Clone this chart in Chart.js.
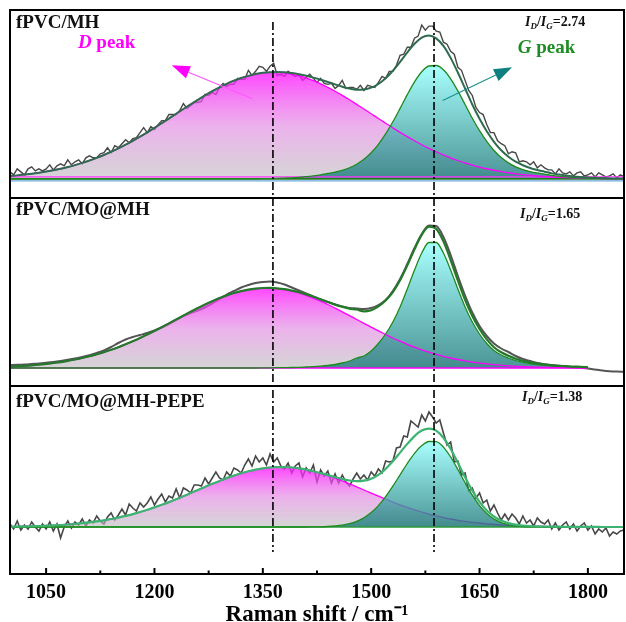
<!DOCTYPE html>
<html><head><meta charset="utf-8">
<script src="https://cdn.jsdelivr.net/npm/chart.js@4.4.1/dist/chart.umd.min.js"></script>
<style>html,body{margin:0;padding:0;background:#fff;overflow:hidden;}#wrap{width:626px;height:622px;}</style>
</head><body><div id="wrap"><canvas id="c" width="626" height="622"></canvas></div>
<script>
// ---------- DATA ----------
const WN10 = [1000,1010,1020,1030,1040,1050,1060,1070,1080,1090,
1100,1110,1120,1130,1140,1150,1160,1170,1180,1190,
1200,1210,1220,1230,1240,1250,1260,1270,1280,1290,
1300,1310,1320,1330,1340,1350,1360,1370,1380,1390,
1400,1410,1420,1430,1440,1450,1460,1470,1480,1490,
1500,1510,1520,1530,1540,1550,1560,1570,1580,1590,
1600,1610,1620,1630,1640,1650,1660,1670,1680,1690,
1700,1710,1720,1730,1740,1750,1760,1770,1780,1790,
1800,1810,1820,1830,1840,1850];
const WN5 = [1000,1005,1010,1015,1020,1025,1030,1035,1040,1045,
1050,1055,1060,1065,1070,1075,1080,1085,1090,1095,
1100,1105,1110,1115,1120,1125,1130,1135,1140,1145,
1150,1155,1160,1165,1170,1175,1180,1185,1190,1195,
1200,1205,1210,1215,1220,1225,1230,1235,1240,1245,
1250,1255,1260,1265,1270,1275,1280,1285,1290,1295,
1300,1305,1310,1315,1320,1325,1330,1335,1340,1345,
1350,1355,1360,1365,1370,1375,1380,1385,1390,1395,
1400,1405,1410,1415,1420,1425,1430,1435,1440,1445,
1450,1455,1460,1465,1470,1475,1480,1485,1490,1495,
1500,1505,1510,1515,1520,1525,1530,1535,1540,1545,
1550,1555,1560,1565,1570,1575,1580,1585,1590,1595,
1600,1605,1610,1615,1620,1625,1630,1635,1640,1645,
1650,1655,1660,1665,1670,1675,1680,1685,1690,1695,
1700,1705,1710,1715,1720,1725,1730,1735,1740,1745,
1750,1755,1760,1765,1770,1775,1780,1785,1790,1795,
1800,1805,1810,1815,1820,1825,1830,1835,1840,1845,
1850];

const xMajorTicks = [1050,1200,1350,1500,1650,1800];
const xMinorTicks = [1125,1275,1425,1575,1725];
const peakMarkers = [1364,1587];
const panelNames = ['fPVC/MH','fPVC/MO@MH','fPVC/MO@MH-PEPE'];
const ratioValues = ['2.74','1.65','1.38'];
const axisTitle = 'Raman shift / cm\u207B\u00B9';

// Panel 1: fPVC/MH
const spec1 = [7,4,10,7,4,10,12,8,10,8,
10,14,9,13,15,13,19,14,17,19,
15,21,23,21,21,25,26,31,26,33,
31,35,39,36,40,41,46,51,46,52,
49,54,58,58,64,64,64,68,75,70,
73,76,76,77,84,83,86,84,91,95,
92,94,94,100,99,99,108,103,107,112,
111,107,112,115,103,104,102,107,104,102,
104,98,101,104,100,96,100,95,94,95,
90,93,98,90,91,91,89,93,88,93,
92,91,96,102,100,107,107,113,123,124,
131,131,140,142,153,148,152,152,147,146,
136,134,127,124,111,108,98,88,83,71,
66,64,54,46,46,38,35,33,25,27,
26,17,18,17,14,17,11,14,11,9,
9,5,10,6,5,7,3,6,7,3,
4,6,2,6,4,2,3,5,1,4,
2];
const dPeak1 = [2.9,3.5,4.3,5.1,6.1,7.3,8.6,10.1,11.8,13.7,
15.9,18.3,20.9,23.8,27.0,30.4,34.0,37.9,42.0,46.3,
50.8,55.4,60.0,64.8,69.5,74.1,78.7,83.1,87.2,91.0,
94.6,97.7,100.4,102.5,104.2,105.4,105.9,105.9,105.4,104.2,
102.5,100.4,97.7,94.6,91.0,87.2,83.1,78.7,74.1,69.5,
64.8,60.0,55.4,50.8,46.3,42.0,37.9,34.0,30.4,27.0,
23.8,20.9,18.3,15.9,13.7,11.8,10.1,8.6,7.3,6.1,
5.1,4.3,3.5,2.9,2.4,1.9,1.6,1.3,1.0,0.8,
0.6,0.5,0.4,0.3,0.2,0.2];
const gPeak1 = [0,0,0,0,0,0,0,0,0,0,
0,0,0,0,0,0,0,0,0,0,
0,0,0,0,0,0,0,0,0,0,
0,0,0,0,0.1,0.2,0.3,0.5,0.8,1.1,
1.6,2.2,3.0,4.0,5.4,6.8,8.6,11.1,14.6,19.5,
26.0,34.4,44.7,56.8,70.1,83.8,96.5,106.6,112.3,112.8,
108.5,99.5,87.5,74.0,60.3,48.0,37.3,28.3,21.2,15.9,
12.0,9.3,7.3,5.9,4.8,3.6,2.7,2.0,1.5,1.1,
0.8,0.6,0.4,0.3,0.2,0.2];
const fit1 = [2.9,3.5,4.3,5.1,6.1,7.3,8.6,10.1,11.8,13.7,
15.9,18.3,20.9,23.8,27.0,30.4,34.0,37.9,42.0,46.3,
50.8,55.4,60.0,64.8,69.5,74.1,78.7,83.1,87.2,91.0,
94.6,97.7,100.4,102.5,104.3,105.6,106.2,106.4,106.2,105.3,
104.1,102.6,100.7,98.6,96.4,94.0,91.7,89.8,88.7,89.0,
90.8,94.4,100.1,107.6,116.4,125.8,134.4,140.6,142.7,139.8,
132.3,120.4,105.8,89.9,74.0,59.8,47.4,36.9,28.5,22.0,
17.1,13.6,10.8,8.8,7.2,5.5,4.3,3.3,2.5,1.9,
1.4,1.1,0.8,0.6,0.4,0.4];

// Panel 2: fPVC/MO@MH (fit curves end at 1800)
const spec2 = [3,3.2,3.5,4,4.5,5.2,6,7,8.2,9.5,
11,12.8,15,17.5,21,25,28.5,31,33,35,
37.5,40.5,44,48,52,55,57.5,60.5,64.5,69,
73.5,77,80.5,83,85,86,86.5,85.5,83.5,80.5,
77.5,74.5,71.5,68.5,66,63.5,61.5,60,59.5,59,
60,63,68,77,89,104,120,134,142.5,142,
131,113,92,72.5,55.5,42,32,24.5,19.5,16,
12,9,7,5,3.8,3,2.2,1.5,0.8,0.2,
-0.5,-1.5,-2.5,-3.2,-3.6,-3.8];
const dPeak2 = [1.4,1.8,2.2,2.7,3.3,4.1,5.0,5.9,7.1,8.5,
10.0,11.7,13.7,15.8,18.2,20.8,23.7,26.8,30.0,33.5,
37.1,40.8,44.6,48.5,52.4,56.2,59.9,63.5,66.8,69.9,
72.6,75.0,76.9,78.4,79.4,79.9,79.9,79.4,78.4,76.9,
75.0,72.6,69.9,66.8,63.5,59.9,56.2,52.4,48.5,44.6,
40.8,37.1,33.5,30.0,26.8,23.7,20.8,18.2,15.8,13.7,
11.7,10.0,8.5,7.1,5.9,5.0,4.1,3.3,2.7,2.2,
1.8,1.4,1.1,0.9,0.7,0.5,0.4,0.3,0.2,0.2,
0.1];
const gPeak2 = [0,0,0,0,0,0,0,0,0,0,
0,0,0,0,0,0,0,0,0,0,
0,0,0,0,0,0,0,0,0,0,
0,0,0,0,0,0.1,0.2,0.3,0.4,0.5,
0.7,1.0,1.3,1.8,2.5,3.5,5.0,7.0,10,12,
17,24.5,34,46,61,79,98,115,125.5,125.5,
115,98,79,61,46,34,24.5,17.5,13,10,
7.5,5.8,4.5,3.5,2.8,2.2,1.8,1.5,1.2,1.0,
0.8];
const fit2 = [1.4,1.8,2.2,2.7,3.3,4.1,5.0,5.9,7.1,8.5,
10.0,11.7,13.7,15.8,18.2,20.8,23.7,26.8,30.0,33.5,
37.1,40.8,44.6,48.5,52.4,56.2,59.9,63.5,66.8,69.9,
72.6,75.0,76.9,78.4,79.4,80.0,80.1,79.7,78.8,77.4,
75.7,73.6,71.2,68.6,66.0,63.4,61.2,59.4,58.5,56.6,
57.8,61.6,67.5,76.0,87.8,102.7,118.8,133.2,141.3,139.2,
126.7,108.0,87.5,68.1,51.9,39.0,28.6,20.8,15.7,12.2,
9.3,7.2,5.6,4.4,3.5,2.7,2.2,1.8,1.4,1.2,
0.9];

// Panel 3: fPVC/MO@MH-PEPE
const spec3 = [3,-2,6,-3,2,-2,5,0,-4,3,
-2,5,-4,3,-11,0,6,-1,5,2,
8,1,7,4,11,6,3,10,14,7,
12,18,12,23,19,16,24,20,24,30,
22,28,33,25,31,29,38,29,39,37,
34,42,42,41,49,43,49,55,49,47,
55,51,59,57,54,62,68,61,71,65,
69,62,73,65,69,61,58,64,54,61,
64,50,59,54,62,45,57,51,56,44,
53,44,52,45,41,48,54,48,52,47,
55,51,58,54,66,65,66,79,80,91,
90,106,103,100,112,106,115,110,104,107,
94,82,85,65,66,52,54,36,39,29,
34,24,27,16,22,14,7,13,7,13,
9,3,11,4,7,1,9,5,3,7,
-2,4,-3,2,5,-2,3,-4,1,4,
-3,1,-7,-2,-5,-1,-9,-5,-7,-4,
-3];
const dPeak3 = [0.4,0.5,0.6,0.8,1.0,1.3,1.6,2.0,2.5,3.1,
3.8,4.6,5.6,6.7,8.0,9.4,11.1,12.9,15.0,17.2,
19.6,22.2,24.9,27.8,30.8,33.9,37.0,40.1,43.2,46.1,
48.9,51.4,53.7,55.7,57.4,58.6,59.5,59.9,59.9,59.5,
58.6,57.4,55.7,53.7,51.4,48.9,46.1,43.2,40.1,37.0,
33.9,30.8,27.8,24.9,22.2,19.6,17.2,15.0,12.9,11.1,
9.4,8.0,6.7,5.6,4.6,3.8,3.1,2.5,2.0,1.6,
1.3,1.0,0.8,0.6,0.5,0.4,0.3,0.2,0.2,0.1,
0.1,0.1,0,0,0,0];
const gPeak3 = [0,0,0,0,0,0,0,0,0,0,
0,0,0,0,0,0,0,0,0,0,
0,0,0,0,0,0,0,0,0,0,
0,0,0,0,0,0,0,0,0,0,
0,0,0.1,0.2,0.5,1.0,1.8,3.3,5.7,9.3,
14.4,21.4,30.3,40.8,52.2,63.5,73.7,81.4,85.5,85.3,
79.9,70.0,57.5,44.2,31.8,21.4,13.5,8.0,4.4,2.3,
1.1,0.5,0.2,0.1,0,0,0,0,0,0,
0,0,0,0,0,0];
const fit3 = [0.4,0.5,0.6,0.8,1.0,1.3,1.6,2.0,2.5,3.1,
3.8,4.6,5.6,6.7,8.0,9.4,11.1,12.9,15.0,17.2,
19.6,22.2,24.9,27.8,30.8,33.9,37.0,40.1,43.2,46.1,
48.9,51.4,53.7,55.7,57.4,58.6,59.5,59.9,59.9,59.5,
58.6,57.4,55.8,53.9,51.9,49.9,47.9,46.5,45.8,46.3,
48.3,52.2,58.1,65.7,74.4,83.1,90.9,96.4,98.4,96.4,
89.3,78.0,64.2,49.8,36.4,25.2,16.6,10.5,6.4,3.9,
2.4,1.5,1.0,0.7,0.5,0.4,0.3,0.2,0.2,0.1,
0.1,0.1,0,0,0,0];

const baseLevel = 0;
const panel1BlueLine = -2;
const panel1PinkLine = 2;

// ---------- STYLE ----------
const SERIF = '"Liberation Serif","Times New Roman",serif';
const D_STOPS = [[0,'rgba(255,20,255,0.78)'],[0.5,'rgba(225,130,225,0.62)'],[1,'rgba(185,185,185,0.6)']];
const G_STOPS = [[0,'rgba(150,255,255,0.82)'],[1,'rgba(25,120,120,0.78)']];

function fillGrad(yId, top, stops){
  return (c) => {
    const chart = c.chart, sc = chart.scales[yId];
    if (!chart.chartArea || !sc) return stops[0][1];
    const g = chart.ctx.createLinearGradient(0, sc.getPixelForValue(top), 0, sc.getPixelForValue(0));
    for (const [o,col] of stops) g.addColorStop(o,col);
    return g;
  };
}
function pts(xs, ys){ return ys.map((y,i)=>({x:xs[i], y})); }
function ds(yId, xs, ys, color, width, order, extra){
  return Object.assign({type:'line', yAxisID:yId, data:pts(xs,ys), borderColor:color, borderWidth:width,
    pointRadius:0, fill:false, order, tension:0}, extra||{});
}
const smooth = {cubicInterpolationMode:'monotone'};
function fillDs(yId, ys, stops, order){
  return ds(yId, WN10, ys, 'rgba(0,0,0,0)', 0, order,
    {fill:'origin', backgroundColor: fillGrad(yId, Math.max(...ys), stops), cubicInterpolationMode:'monotone'});
}

const datasets = [
  // panel 1
  ds('y1', WN10, fit1, '#2f6b4f', 2, 1, smooth),
  ds('y1', WN10, gPeak1, '#1e8a1e', 1.3, 2, smooth),
  ds('y1', WN10, dPeak1, '#ff00ff', 1.3, 3, smooth),
  ds('y1', WN10, WN10.map(()=>baseLevel), '#1e7a1e', 1.6, 4),
  ds('y1', WN10, WN10.map(()=>panel1BlueLine), '#6fa8dc', 1.4, 4),
  ds('y1', WN10, WN10.map(()=>panel1PinkLine), '#ff33ff', 1.2, 4),
  fillDs('y1', gPeak1, G_STOPS, 5),
  fillDs('y1', dPeak1, D_STOPS, 7),
  ds('y1', WN5, spec1, '#474747', 1.4, 9),
  // panel 2
  ds('y2', WN10, fit2, '#237a2a', 2.2, 1, smooth),
  ds('y2', WN10, gPeak2, '#1e8a1e', 1.3, 2, smooth),
  ds('y2', WN10, dPeak2, '#ff00ff', 1.3, 3, smooth),
  ds('y2', WN10, dPeak2.map(()=>baseLevel), '#ff00ff', 1.4, 4),
  fillDs('y2', gPeak2, G_STOPS, 5),
  fillDs('y2', dPeak2, D_STOPS, 7),
  ds('y2', WN10, spec2, '#555555', 2, 9, smooth),
  // panel 3
  ds('y3', WN10, fit3, '#3cb371', 2.2, 1, smooth),
  ds('y3', WN10, gPeak3, '#1e8a1e', 1.3, 2, smooth),
  ds('y3', WN10, WN10.map(()=>baseLevel), '#2a9a3a', 1.6, 4),
  fillDs('y3', gPeak3, G_STOPS, 5),
  ds('y3', WN10, dPeak3, '#ff00ff', 1.3, 6, smooth),
  fillDs('y3', dPeak3, D_STOPS, 7),
  ds('y3', WN5, spec3, '#474747', 1.6, 9)
];

// ---------- DECORATION PLUGIN ----------
const panelLabelPos = [{dx:6, dy:18},{dx:6, dy:17},{dx:6, dy:21}];
const ratioPos = [{dx:515, dy:16},{dx:510, dy:20},{dx:512, dy:15}];
function arrow(ctx,x0,y0,x1,y1,lineCol,headCol,hl,hw,lw){
  const a = Math.atan2(y1-y0,x1-x0);
  const bx = x1-hl*Math.cos(a), by = y1-hl*Math.sin(a);
  ctx.strokeStyle=lineCol; ctx.lineWidth=lw; ctx.setLineDash([]);
  ctx.beginPath(); ctx.moveTo(x0,y0); ctx.lineTo(bx,by); ctx.stroke();
  ctx.fillStyle=headCol; ctx.beginPath(); ctx.moveTo(x1,y1);
  ctx.lineTo(bx+hw*Math.sin(a), by-hw*Math.cos(a));
  ctx.lineTo(bx-hw*Math.sin(a), by+hw*Math.cos(a));
  ctx.closePath(); ctx.fill();
}
function ratioText(ctx,x,y,val){
  let cx = x;
  const part=(t,font,dy)=>{ctx.font=font; ctx.fillText(t,cx,y+dy); cx+=ctx.measureText(t).width;};
  ctx.fillStyle='#111'; ctx.textAlign='left'; ctx.textBaseline='alphabetic';
  part('I','italic bold 14px '+SERIF,0);
  part('D','italic bold 9px '+SERIF,3);
  part('/','bold 14px '+SERIF,0);
  part('I','italic bold 14px '+SERIF,0);
  part('G','italic bold 9px '+SERIF,3);
  part('='+val,'bold 14px '+SERIF,0);
}
const deco = {
  id:'deco',
  afterDatasetsDraw(chart){
    const ctx = chart.ctx, area = chart.chartArea, xs = chart.scales.x;
    const ys = [chart.scales.y1, chart.scales.y2, chart.scales.y3];
    ctx.save();
    // dash-dot peak markers
    ctx.strokeStyle='#000'; ctx.lineWidth=1.6; ctx.setLineDash([8,3,2,3]);
    for (const m of peakMarkers){
      const px = xs.getPixelForValue(m);
      ctx.beginPath(); ctx.moveTo(px, ys[0].getPixelForValue(156)); ctx.lineTo(px, ys[2].getPixelForValue(-25)); ctx.stroke();
    }
    ctx.setLineDash([]);
    // frames
    ctx.strokeStyle='#000'; ctx.lineWidth=2;
    ys.forEach(s=>{ ctx.strokeRect(area.left, s.top, area.right-area.left, s.bottom-s.top); });
    // inward ticks
    ctx.lineWidth=2;
    for (const t of xMajorTicks){ const px=xs.getPixelForValue(t); ctx.beginPath(); ctx.moveTo(px,area.bottom); ctx.lineTo(px,area.bottom-6); ctx.stroke(); }
    for (const t of xMinorTicks){ const px=xs.getPixelForValue(t); ctx.beginPath(); ctx.moveTo(px,area.bottom); ctx.lineTo(px,area.bottom-3.5); ctx.stroke(); }
    // panel names
    ctx.fillStyle='#111'; ctx.textAlign='left'; ctx.textBaseline='alphabetic';
    ctx.font='bold 19px '+SERIF;
    ys.forEach((s,i)=>{ ctx.fillText(panelNames[i], area.left+panelLabelPos[i].dx, s.top+panelLabelPos[i].dy); });
    ys.forEach((s,i)=>{ ratioText(ctx, area.left+ratioPos[i].dx, s.top+ratioPos[i].dy, ratioValues[i]); });
    // D peak / G peak labels
    const y1 = ys[0];
    ctx.fillStyle='#ff00ff';
    ctx.font='italic bold 19px '+SERIF; let lx = xs.getPixelForValue(1094);
    ctx.fillText('D', lx, y1.top+38); lx += ctx.measureText('D ').width;
    ctx.font='bold 19px '+SERIF; ctx.fillText('peak', lx, y1.top+38);
    ctx.fillStyle='#1f8b24';
    ctx.font='italic bold 19px '+SERIF; lx = xs.getPixelForValue(1703);
    ctx.fillText('G', lx, y1.top+43); lx += ctx.measureText('G ').width;
    ctx.font='bold 19px '+SERIF; ctx.fillText('peak', lx, y1.top+43);
    // arrows
    arrow(ctx, xs.getPixelForValue(1335), y1.getPixelForValue(80), xs.getPixelForValue(1224), y1.getPixelForValue(113), '#ff55ff', '#ff00ff', 18, 6.5, 1.1);
    arrow(ctx, xs.getPixelForValue(1599), y1.getPixelForValue(78), xs.getPixelForValue(1695), y1.getPixelForValue(111), '#1a9090', '#0e8080', 18, 6.5, 1.1);
    ctx.restore();
  }
};

new Chart(document.getElementById('c'), {
  type:'line',
  data:{datasets},
  options:{
    responsive:false, animation:false, events:[],
    layout:{padding:{left:10,right:2,top:10,bottom:3.1}},
    plugins:{legend:{display:false}, tooltip:{enabled:false}},
    scales:{
      x:{type:'linear', position:'bottom', min:1000, max:1850,
        grid:{display:false, drawTicks:false}, border:{display:false},
        afterBuildTicks:(s)=>{ s.ticks = xMajorTicks.map(v=>({value:v})); },
        ticks:{autoSkip:false, maxRotation:0, padding:9, color:'#000', callback:(v)=>String(v),
          font:{family:SERIF, size:20, weight:'bold', lineHeight:1.0}},
        title:{display:true, text:axisTitle, color:'#000', padding:{top:0,bottom:0},
          font:{family:SERIF, size:23, weight:'bold', lineHeight:0.3}}},
      y1:{type:'linear', position:'left', stack:'panels', stackWeight:1, weight:3, min:-19, max:168, display:false},
      y2:{type:'linear', position:'left', stack:'panels', stackWeight:1, weight:2, min:-18, max:170, display:false},
      y3:{type:'linear', position:'left', stack:'panels', stackWeight:1, weight:1, min:-47, max:141, display:false}
    }
  },
  plugins:[deco]
});
</script></body></html>
